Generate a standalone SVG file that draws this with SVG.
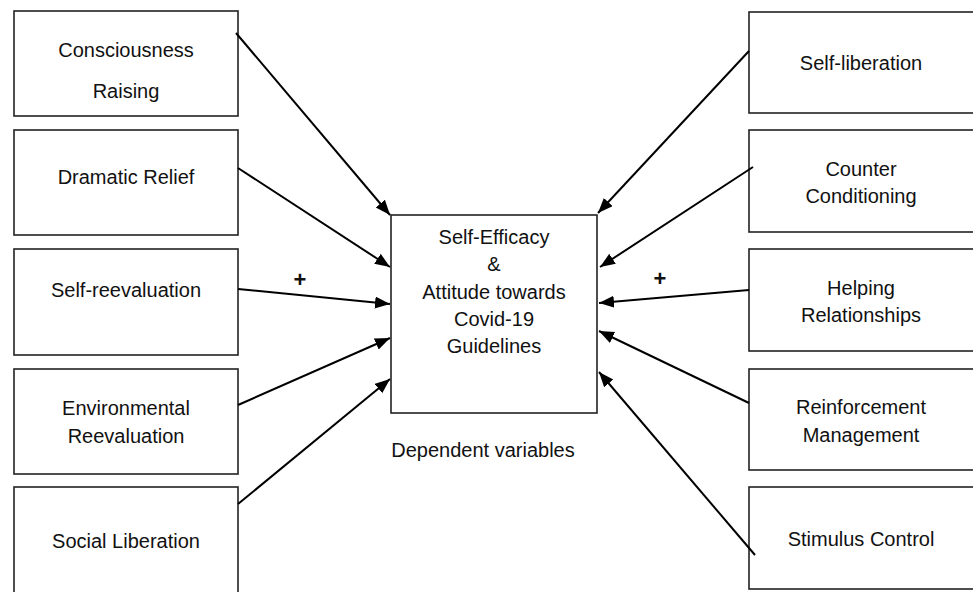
<svg xmlns="http://www.w3.org/2000/svg" width="973" height="592" viewBox="0 0 973 592">
<style>
.box{fill:#fff;stroke:#222;stroke-width:1.6}
.t{font-family:"Liberation Sans",Arial,sans-serif;font-size:20px;fill:#111;text-anchor:middle}
.plus{font-family:"Liberation Sans",Arial,sans-serif;font-size:22px;font-weight:bold;fill:#111;text-anchor:middle}
.c{stroke:#000;stroke-width:2;fill:none;marker-end:url(#ah)}
</style>
<defs>
<marker id="ah" markerUnits="userSpaceOnUse" markerWidth="16" markerHeight="14" refX="15" refY="6" orient="auto">
<path d="M0,0 L15,6 L0,12 Z" fill="#000"/>
</marker>
</defs>
<rect width="973" height="592" fill="#fff"/>
<g id="n-consciousness"><rect class="box" x="14" y="11" width="224" height="105"/><text class="t" x="126" y="57">Consciousness</text><text class="t" x="126" y="98">Raising</text></g>
<g id="n-dramatic"><rect class="box" x="14" y="130" width="224" height="105"/><text class="t" x="126" y="184">Dramatic Relief</text></g>
<g id="n-selfreeval"><rect class="box" x="14" y="249" width="224" height="106"/><text class="t" x="126" y="297">Self-reevaluation</text></g>
<g id="n-environmental"><rect class="box" x="14" y="369" width="224" height="105"/><text class="t" x="126" y="415">Environmental</text><text class="t" x="126" y="443">Reevaluation</text></g>
<g id="n-social"><rect class="box" x="14" y="487" width="224" height="112"/><text class="t" x="126" y="548">Social Liberation</text></g>
<g id="n-selflib"><rect class="box" x="749" y="12" width="226" height="101"/><text class="t" x="861" y="70">Self-liberation</text></g>
<g id="n-counter"><rect class="box" x="749" y="130" width="226" height="102"/><text class="t" x="861" y="176">Counter</text><text class="t" x="861" y="203">Conditioning</text></g>
<g id="n-helping"><rect class="box" x="749" y="249" width="226" height="102"/><text class="t" x="861" y="295">Helping</text><text class="t" x="861" y="322">Relationships</text></g>
<g id="n-reinforcement"><rect class="box" x="749" y="369" width="226" height="101"/><text class="t" x="861" y="414">Reinforcement</text><text class="t" x="861" y="442">Management</text></g>
<g id="n-stimulus"><rect class="box" x="749" y="487" width="226" height="102"/><text class="t" x="861" y="546">Stimulus Control</text></g>
<g id="n-center"><rect class="box" x="391" y="215" width="206" height="198"/>
<text class="t" x="494" y="244">Self-Efficacy</text><text class="t" x="494" y="271">&amp;</text><text class="t" x="494" y="299">Attitude towards</text><text class="t" x="494" y="326">Covid-19</text><text class="t" x="494" y="353">Guidelines</text></g>
<text class="t" x="483" y="457">Dependent variables</text>
<g id="connectors">
<line class="c" x1="236" y1="33" x2="390" y2="215"/>
<line class="c" x1="238" y1="168" x2="390" y2="267"/>
<line class="c" x1="238" y1="289" x2="390" y2="304"/>
<line class="c" x1="238" y1="405" x2="390" y2="338"/>
<line class="c" x1="238" y1="504" x2="390" y2="379"/>
<line class="c" x1="749" y1="51" x2="598" y2="213"/>
<line class="c" x1="753" y1="167" x2="600" y2="267"/>
<line class="c" x1="749" y1="290" x2="599" y2="303"/>
<line class="c" x1="749" y1="403" x2="599" y2="331"/>
<line class="c" x1="755" y1="555" x2="599" y2="372"/>
</g>
<text class="plus" x="300" y="287">+</text>
<text class="plus" x="660" y="286">+</text>
</svg>
